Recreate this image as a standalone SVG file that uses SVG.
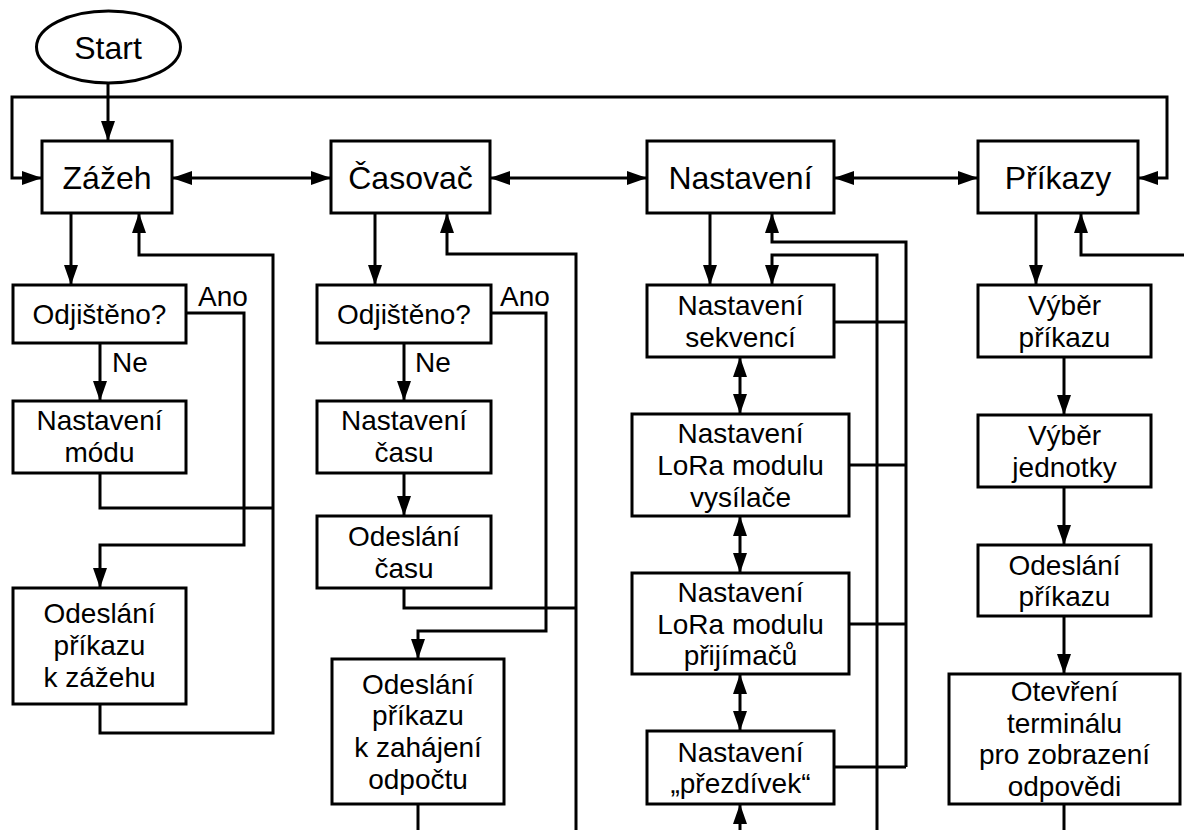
<svg xmlns="http://www.w3.org/2000/svg" width="1184" height="830" viewBox="0 0 1184 830">
<style>
.b{fill:#fff;stroke:#000;stroke-width:3}
.c{fill:none;stroke:#000;stroke-width:3}
.a{marker-end:url(#ah)}
.d{marker-start:url(#ah);marker-end:url(#ah)}
text{font-family:"Liberation Sans",Arial,sans-serif;font-size:28px;fill:#000;text-anchor:middle}
.L{font-size:32px}
.s{text-anchor:start}
</style>
<defs>
<marker id="ah" markerUnits="userSpaceOnUse" markerWidth="20" markerHeight="14" refX="20" refY="7" orient="auto-start-reverse" viewBox="0 0 20 14">
<path d="M0,0 L20,7 L0,14 z" fill="#000"/>
</marker>
</defs>
<rect width="1184" height="830" fill="#fff"/>
<g id="connectors">
<path class="c a" d="M108,83 V141"/>
<path class="c d" d="M42,178 H12 V97 H1167 V178 H1138"/>
<path class="c d" d="M172,178 H331"/>
<path class="c d" d="M490,178 H647"/>
<path class="c d" d="M834,178 H978"/>
<path class="c a" d="M71,213 V285"/>
<path class="c a" d="M100,343 V401"/>
<path class="c a" d="M186,313 H244 V545 H100 V588"/>
<path class="c" d="M100,473 V508 H273"/>
<path class="c a" d="M100,704 V733 H273 V255 H139 V213"/>
<path class="c a" d="M375,213 V285"/>
<path class="c a" d="M404,343 V401"/>
<path class="c a" d="M404,473 V516"/>
<path class="c a" d="M491,313 H546 V631 H418 V659"/>
<path class="c" d="M404,588 V608 H576"/>
<path class="c a" d="M576,830 V254 H447 V213"/>
<path class="c" d="M418,804 V830"/>
<path class="c a" d="M710,213 V285"/>
<path class="c a" d="M906,767 V242 H772 V213"/>
<path class="c" d="M834,767 H906"/>
<path class="c" d="M834,322 H906"/>
<path class="c" d="M849,465 H906"/>
<path class="c" d="M849,624 H906"/>
<path class="c a" d="M877,830 V255 H772 V285"/>
<path class="c d" d="M740,357 V414"/>
<path class="c d" d="M740,516 V573"/>
<path class="c d" d="M740,674 V731"/>
<path class="c a" d="M740,830 V804"/>
<path class="c a" d="M1036,213 V285"/>
<path class="c a" d="M1184,255 H1081 V213"/>
<path class="c a" d="M1064,357 V415"/>
<path class="c a" d="M1064,487 V545"/>
<path class="c a" d="M1064,616 V674"/>
<path class="c" d="M1064,804 V830"/>
</g>
<g id="labels">
<text class="s" x="198" y="306">Ano</text>
<text class="s" x="500" y="306">Ano</text>
<text class="s" x="112" y="372">Ne</text>
<text class="s" x="415" y="372">Ne</text>
</g>
<g id="start"><ellipse class="b" cx="108.5" cy="47" rx="72" ry="36"/><text class="L" x="108" y="59">Start</text></g>
<g id="zazeh"><rect class="b" x="42" y="141" width="130" height="72"/><text class="L" x="107" y="189">Zážeh</text></g>
<g id="casovac"><rect class="b" x="331" y="141" width="159" height="72"/><text class="L" x="410.5" y="189">Časovač</text></g>
<g id="nastaveni"><rect class="b" x="647" y="141" width="187" height="72"/><text class="L" x="740.5" y="189">Nastavení</text></g>
<g id="prikazy"><rect class="b" x="978" y="141" width="160" height="72"/><text class="L" x="1058" y="189">Příkazy</text></g>
<g id="odjisteno1"><rect class="b" x="13" y="285" width="173" height="58"/><text x="99.5" y="323.5">Odjištěno?</text></g>
<g id="modu"><rect class="b" x="13" y="401" width="173" height="72"/><text x="99.5" y="430">Nastavení</text><text x="99.5" y="462">módu</text></g>
<g id="odeslani-zazeh"><rect class="b" x="13" y="588" width="173" height="116"/><text x="99.5" y="623">Odeslání</text><text x="99.5" y="655">příkazu</text><text x="99.5" y="687">k zážehu</text></g>
<g id="odjisteno2"><rect class="b" x="317" y="285" width="174" height="58"/><text x="404" y="323.5">Odjištěno?</text></g>
<g id="cas"><rect class="b" x="317" y="401" width="174" height="72"/><text x="404" y="430">Nastavení</text><text x="404" y="462">času</text></g>
<g id="odeslani-cas"><rect class="b" x="317" y="516" width="174" height="72"/><text x="404" y="546">Odeslání</text><text x="404" y="578">času</text></g>
<g id="odpocet"><rect class="b" x="332" y="659" width="172" height="145"/><text x="418" y="693.5">Odeslání</text><text x="418" y="725">příkazu</text><text x="418" y="757">k zahájení</text><text x="418" y="788.5">odpočtu</text></g>
<g id="sekvenci"><rect class="b" x="647" y="285" width="187" height="72"/><text x="740.5" y="315">Nastavení</text><text x="740.5" y="347">sekvencí</text></g>
<g id="vysilace"><rect class="b" x="632" y="414" width="217" height="102"/><text x="740.5" y="443.3">Nastavení</text><text x="740.5" y="475">LoRa modulu</text><text x="740.5" y="506.7">vysílače</text></g>
<g id="prijimacu"><rect class="b" x="632" y="573" width="217" height="101"/><text x="740.5" y="602">Nastavení</text><text x="740.5" y="633.5">LoRa modulu</text><text x="740.5" y="665">přijímačů</text></g>
<g id="prezdivek"><rect class="b" x="647" y="731" width="187" height="73"/><text x="740.5" y="761.5">Nastavení</text><text x="740.5" y="793">„přezdívek“</text></g>
<g id="vyber-prikazu"><rect class="b" x="978" y="285" width="173" height="72"/><text x="1064.5" y="315">Výběr</text><text x="1064.5" y="347">příkazu</text></g>
<g id="vyber-jednotky"><rect class="b" x="978" y="415" width="173" height="72"/><text x="1064.5" y="445">Výběr</text><text x="1064.5" y="477">jednotky</text></g>
<g id="odeslani-prikazu"><rect class="b" x="978" y="545" width="173" height="71"/><text x="1064.5" y="574.5">Odeslání</text><text x="1064.5" y="606">příkazu</text></g>
<g id="terminal"><rect class="b" x="949" y="674" width="231" height="130"/><text x="1064.5" y="701">Otevření</text><text x="1064.5" y="732.5">terminálu</text><text x="1064.5" y="764">pro zobrazení</text><text x="1064.5" y="795.5">odpovědi</text></g>
</svg>
